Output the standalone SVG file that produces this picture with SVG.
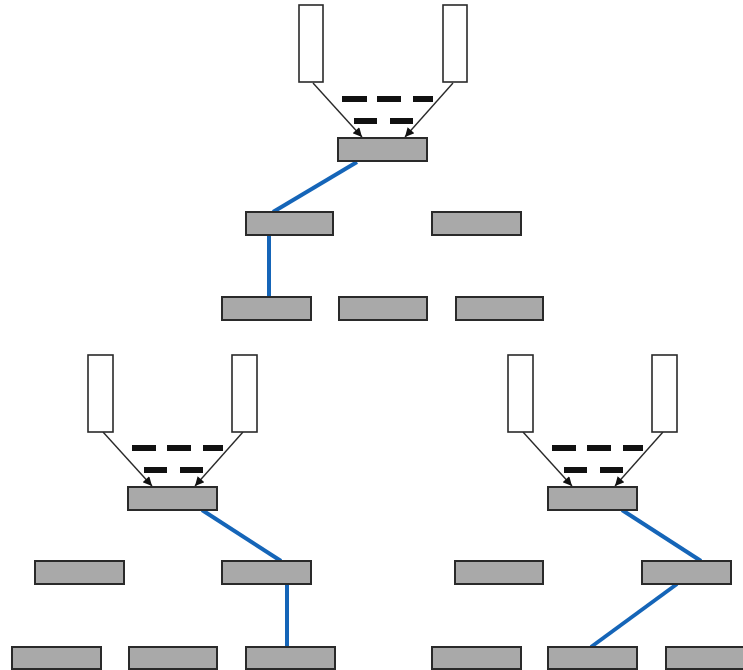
<svg xmlns="http://www.w3.org/2000/svg" width="743" height="670" viewBox="0 0 743 670">
<style>
.box{fill:#a9a9a9;stroke:#2a2a2a;stroke-width:2}
.tall{fill:#fff;stroke:#2a2a2a;stroke-width:1.6}
.dash{fill:#111}
.arr{stroke:#2a2a2a;stroke-width:1.4;fill:none}
.blue{stroke:#1565b8;stroke-width:4;fill:none}
</style>
<defs>
<marker id="ah" viewBox="0 0 10 10" refX="10" refY="5" markerWidth="11" markerHeight="9" markerUnits="userSpaceOnUse" orient="auto">
<path d="M0,0 L10,5 L0,10 z" fill="#111"/>
</marker>
</defs>
<rect width="743" height="670" fill="#fff"/>
<g id="connectors">
<line class="arr" x1="313" y1="83" x2="362" y2="137" marker-end="url(#ah)"/>
<line class="arr" x1="453" y1="83" x2="405" y2="137" marker-end="url(#ah)"/>
<line class="arr" x1="103" y1="432" x2="152" y2="486" marker-end="url(#ah)"/>
<line class="arr" x1="243" y1="432" x2="195" y2="486" marker-end="url(#ah)"/>
<line class="arr" x1="523" y1="432" x2="572" y2="486" marker-end="url(#ah)"/>
<line class="arr" x1="663" y1="432" x2="615" y2="486" marker-end="url(#ah)"/>
<line class="blue" x1="357" y1="162" x2="273" y2="212"/>
<line class="blue" x1="269" y1="235" x2="269" y2="297"/>
<line class="blue" x1="202" y1="510" x2="281" y2="561"/>
<line class="blue" x1="287" y1="584" x2="287" y2="647"/>
<line class="blue" x1="622" y1="510" x2="701" y2="561"/>
<line class="blue" x1="677" y1="584" x2="591" y2="647"/>
</g>
<g id="dashes">
<rect class="dash" x="342" y="96" width="25" height="6"/>
<rect class="dash" x="377" y="96" width="24" height="6"/>
<rect class="dash" x="413" y="96" width="20" height="6"/>
<rect class="dash" x="354" y="118" width="23" height="6"/>
<rect class="dash" x="390" y="118" width="23" height="6"/>
<rect class="dash" x="132" y="445" width="24" height="6"/>
<rect class="dash" x="167" y="445" width="24" height="6"/>
<rect class="dash" x="203" y="445" width="20" height="6"/>
<rect class="dash" x="144" y="467" width="23" height="6"/>
<rect class="dash" x="180" y="467" width="23" height="6"/>
<rect class="dash" x="552" y="445" width="24" height="6"/>
<rect class="dash" x="587" y="445" width="24" height="6"/>
<rect class="dash" x="623" y="445" width="20" height="6"/>
<rect class="dash" x="564" y="467" width="23" height="6"/>
<rect class="dash" x="600" y="467" width="23" height="6"/>
</g>
<g id="top-source-left"><rect class="tall" x="299" y="5" width="24" height="77"/></g>
<g id="top-source-right"><rect class="tall" x="443" y="5" width="24" height="77"/></g>
<g id="top-root"><rect class="box" x="338" y="138" width="89" height="23"/></g>
<g id="top-mid-1"><rect class="box" x="246" y="212" width="87" height="23"/></g>
<g id="top-mid-2"><rect class="box" x="432" y="212" width="89" height="23"/></g>
<g id="top-leaf-1"><rect class="box" x="222" y="297" width="89" height="23"/></g>
<g id="top-leaf-2"><rect class="box" x="339" y="297" width="88" height="23"/></g>
<g id="top-leaf-3"><rect class="box" x="456" y="297" width="87" height="23"/></g>

<g id="bl-source-left"><rect class="tall" x="88" y="355" width="25" height="77"/></g>
<g id="bl-source-right"><rect class="tall" x="232" y="355" width="25" height="77"/></g>
<g id="bl-root"><rect class="box" x="128" y="487" width="89" height="23"/></g>
<g id="bl-mid-1"><rect class="box" x="35" y="561" width="89" height="23"/></g>
<g id="bl-mid-2"><rect class="box" x="222" y="561" width="89" height="23"/></g>
<g id="bl-leaf-1"><rect class="box" x="12" y="647" width="89" height="22"/></g>
<g id="bl-leaf-2"><rect class="box" x="129" y="647" width="88" height="22"/></g>
<g id="bl-leaf-3"><rect class="box" x="246" y="647" width="89" height="22"/></g>

<g id="br-source-left"><rect class="tall" x="508" y="355" width="25" height="77"/></g>
<g id="br-source-right"><rect class="tall" x="652" y="355" width="25" height="77"/></g>
<g id="br-root"><rect class="box" x="548" y="487" width="89" height="23"/></g>
<g id="br-mid-1"><rect class="box" x="455" y="561" width="88" height="23"/></g>
<g id="br-mid-2"><rect class="box" x="642" y="561" width="89" height="23"/></g>
<g id="br-leaf-1"><rect class="box" x="432" y="647" width="89" height="22"/></g>
<g id="br-leaf-2"><rect class="box" x="548" y="647" width="89" height="22"/></g>
<g id="br-leaf-3"><rect class="box" x="666" y="647" width="89" height="22"/></g>
</svg>
